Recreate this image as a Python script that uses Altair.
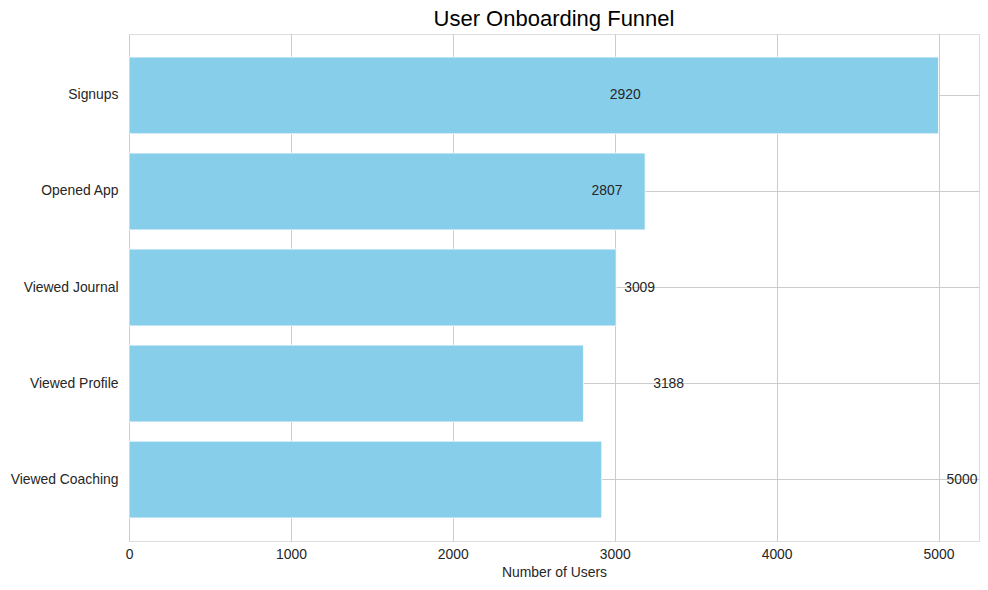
import altair as alt
import pandas as pd

stages = ["Signups", "Opened App", "Viewed Journal", "Viewed Profile", "Viewed Coaching"]
users = [5000, 3188, 3009, 2807, 2920]
# labels as printed in the reference (in reversed order relative to bars)
label_values = [2920, 2807, 3009, 3188, 5000]
x_ticks = [0, 1000, 2000, 3000, 4000, 5000]

df = pd.DataFrame({"stage": stages, "users": users, "label": label_values})

FONT = "Liberation Sans"
TXT = "#262626"
GRID = "#cccccc"

y_enc = alt.Y(
    "stage:N",
    sort=stages,
    title=None,
    scale=alt.Scale(paddingInner=0.2, paddingOuter=0.24),
    axis=alt.Axis(
        bandPosition=0.5,
        ticks=False,
        domain=False,
        labelPadding=11,
        labelFontSize=13.9,
        labelColor=TXT,
        labelFont=FONT,
        grid=True,
        gridColor=GRID,
        gridWidth=1,
    ),
)

x_scale = alt.Scale(domain=[0, 5250], nice=False, zero=True)

bars = alt.Chart(df).mark_bar(
    color="#87CEEB", stroke="white", strokeWidth=0.8
).encode(
    x=alt.X(
        "users:Q",
        scale=x_scale,
        title="Number of Users",
        axis=alt.Axis(
            values=x_ticks,
            format="d",
            ticks=False,
            domain=False,
            labelFlush=False,
            labelPadding=6,
            labelFontSize=13.9,
            labelColor=TXT,
            labelFont=FONT,
            titleFont=FONT,
            titleFontSize=13.9,
            titleFontWeight="normal",
            titleColor=TXT,
            titlePadding=5,
            grid=True,
            gridColor=GRID,
            gridWidth=1,
        ),
    ),
    y=y_enc,
)

texts = alt.Chart(df).mark_text(
    align="left", baseline="middle", dx=8, fontSize=13.9, font=FONT, color=TXT
).encode(
    x=alt.X("label:Q", scale=x_scale),
    y=alt.Y("stage:N", sort=stages),
    text=alt.Text("label:Q", format="d"),
)

chart = (
    alt.layer(bars, texts)
    .properties(
        width=850,
        height=507,
        title=alt.TitleParams(
            "User Onboarding Funnel",
            font=FONT,
            fontSize=22,
            fontWeight="normal",
            color="#000000",
            anchor="middle",
            offset=3,
        ),
        autosize=alt.AutoSizeParams(type="none"),
        padding={"left": 121, "top": 26, "right": 1, "bottom": 41},
    )
    .configure_view(stroke=GRID, strokeWidth=1.2)
    .configure(background="white")
)

chart.save("out.html", embed_options={"renderer": "svg", "actions": False})
